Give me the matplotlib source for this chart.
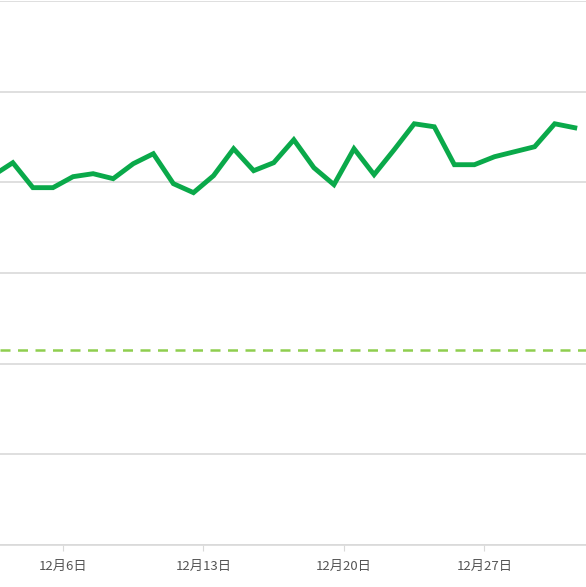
import matplotlib.pyplot as plt
import numpy as np

plt.rcParams['font.family'] = ['Noto Sans CJK SC', 'DejaVu Sans']

# pixel-read values, converted to axis units (0..600)
days = np.arange(2.5, 32.0, 1.0)
pix_y = [175, 162, 187, 187, 176, 173, 178, 163, 153, 183, 192, 175, 148, 170, 162,
         139, 167, 184, 148, 174, 149, 123, 126, 164, 164, 156, 151, 146, 123, 127]
values = [(545 - y) / 545 * 600 for y in pix_y]
target = (545 - 350) / 545 * 600
tick_days = [6, 13, 20, 27]
tick_labels = ["12月6日", "12月13日", "12月20日", "12月27日"]

fig = plt.figure(figsize=(5.86, 5.87), dpi=100)
ax = fig.add_axes([0, 1 - 545 / 587, 1, 544 / 587])
ax.plot(days, values, color="#0aa94a", lw=3.5, solid_joinstyle="miter", zorder=3)
ax.axhline(target, color="#8fce4f", lw=1.8, ls=(0, (4, 3)), zorder=2)

ax.set_xlim(6 - 63 / 20.07, 6 + 523 / 20.07)
ax.set_ylim(0, 600)
ax.set_yticks(np.arange(0, 601, 100))
ax.yaxis.grid(True, color="#d9d9d9", lw=1.2)
ax.set_axisbelow(True)
ax.tick_params(axis="y", left=False, labelleft=False)
ax.set_xticks(tick_days, tick_labels)
ax.tick_params(axis="x", length=4, color="#d9d9d9", labelsize=9.5, labelcolor="#555555", pad=7)
for lbl in ax.get_xticklabels():
    lbl.set_fontweight("medium")
for s in ["top", "left", "right"]:
    ax.spines[s].set_visible(False)
ax.spines["bottom"].set_color("#d9d9d9")
ax.spines["bottom"].set_linewidth(1.2)

fig.savefig("out.png", dpi=100)
